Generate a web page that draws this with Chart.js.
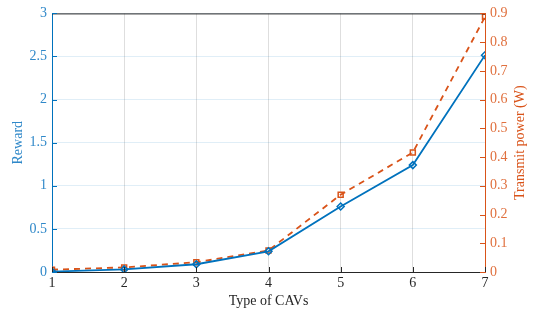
<!DOCTYPE html>
<html><head><meta charset="utf-8">
<script src="https://cdn.jsdelivr.net/npm/chart.js@4"></script>
<style>html,body{margin:0;padding:0;background:#fff}#wrap{width:534px;height:314px}</style>
</head><body><div id="wrap"><canvas id="c" width="534" height="314"></canvas></div>
<script>
const categories = [1, 2, 3, 4, 5, 6, 7];
const reward = [0.005, 0.03, 0.09, 0.24, 0.76, 1.24, 2.515];
const power = [0.008, 0.016, 0.034, 0.075, 0.269, 0.416, 0.888];
const rewardTicks = [0, 0.5, 1, 1.5, 2, 2.5, 3];
const powerTicks = [0, 0.1, 0.2, 0.3, 0.4, 0.5, 0.6, 0.7, 0.8, 0.9];

const BLUE = '#0072BD', ORANGE = '#D95319', DARK = '#262626';
const FONT = "'Liberation Serif', 'Times New Roman', serif";

const tickPlugin = {
  id: 'matlabTicks',
  afterDraw(chart) {
    const ctx = chart.ctx, a = chart.chartArea;
    const x = chart.scales.x, yl = chart.scales.y, yr = chart.scales.y2;
    ctx.save();
    ctx.lineWidth = 1;
    ctx.strokeStyle = DARK;
    ctx.beginPath(); ctx.moveTo(a.left, a.top + 0.5); ctx.lineTo(a.right, a.top + 0.5); ctx.stroke();
    categories.forEach(v => {
      const px = Math.round(x.getPixelForValue(v)) + 0.5;
      ctx.beginPath(); ctx.moveTo(px, a.bottom); ctx.lineTo(px, a.bottom - 5); ctx.stroke();
    });
    ctx.strokeStyle = BLUE;
    rewardTicks.forEach(v => {
      const py = Math.round(yl.getPixelForValue(v)) + 0.5;
      ctx.beginPath(); ctx.moveTo(a.left, py); ctx.lineTo(a.left + 5, py); ctx.stroke();
    });
    ctx.strokeStyle = ORANGE;
    powerTicks.forEach(v => {
      const py = Math.round(yr.getPixelForValue(v)) + 0.5;
      ctx.beginPath(); ctx.moveTo(a.right, py); ctx.lineTo(a.right - 5, py); ctx.stroke();
    });
    ctx.font = "14px " + FONT;
    ctx.textAlign = 'center'; ctx.textBaseline = 'middle';
    const cy = (a.top + a.bottom) / 2;
    ctx.save();
    ctx.fillStyle = '#2f88c9';
    ctx.translate(18, cy); ctx.rotate(-Math.PI / 2);
    ctx.fillText('Reward', 0, 0);
    ctx.restore();
    ctx.fillStyle = ORANGE;
    ctx.translate(520, cy); ctx.rotate(-Math.PI / 2);
    ctx.fillText('Transmit power (W)', 0, 0);
    ctx.restore();
  }
};

new Chart(document.getElementById('c'), {
  type: 'line',
  data: {
    datasets: [
      {
        label: 'Reward', yAxisID: 'y',
        data: categories.map((c, i) => ({x: c, y: reward[i]})),
        borderColor: BLUE, backgroundColor: 'transparent', borderWidth: 1.8,
        pointStyle: 'rectRot', pointRadius: 3.5, pointBorderWidth: 1.5,
        pointBorderColor: BLUE, pointBackgroundColor: 'transparent', tension: 0
      },
      {
        label: 'Transmit power', yAxisID: 'y2',
        data: categories.map((c, i) => ({x: c, y: power[i]})),
        borderColor: ORANGE, backgroundColor: 'transparent', borderWidth: 1.8,
        borderDash: [6, 5],
        pointStyle: 'rect', pointRadius: 3.5, pointBorderWidth: 1.5,
        pointBorderColor: ORANGE, pointBackgroundColor: 'transparent', tension: 0
      }
    ]
  },
  options: {
    responsive: false, animation: false,
    layout: {padding: {top: 8, left: 0, right: 0, bottom: 0}},
    plugins: {legend: {display: false}, tooltip: {enabled: false}},
    scales: {
      x: {
        type: 'linear', min: 1, max: 7,
        afterFit(s) { s.height = 42; },
        afterBuildTicks(s) { s.ticks = categories.map(v => ({value: v})); },
        grid: {color: 'rgba(0,0,0,0.13)', drawTicks: false},
        border: {color: DARK, width: 1},
        ticks: {color: DARK, font: {family: FONT, size: 14}, padding: 3},
        title: {display: true, text: 'Type of CAVs', color: DARK, font: {family: FONT, size: 14}, padding: {top: 0}}
      },
      y: {
        position: 'left', min: 0, max: 3,
        afterFit(s) { s.width = 52; },
        afterBuildTicks(s) { s.ticks = rewardTicks.map(v => ({value: v})); },
        grid: {color: 'rgba(0,114,189,0.12)', drawTicks: false},
        border: {color: BLUE, width: 1},
        ticks: {color: '#2f88c9', font: {family: FONT, size: 14}, padding: 5,
                callback: v => String(v)},
        title: {display: false}
      },
      y2: {
        position: 'right', min: 0, max: 0.9,
        afterFit(s) { s.width = 49; },
        afterBuildTicks(s) { s.ticks = powerTicks.map(v => ({value: v})); },
        grid: {display: false, drawTicks: false},
        border: {color: ORANGE, width: 1},
        ticks: {color: '#e0703e', font: {family: FONT, size: 14}, padding: 5,
                callback: v => String(v)},
        title: {display: false}
      }
    }
  },
  plugins: [tickPlugin]
});
</script>
</body></html>
